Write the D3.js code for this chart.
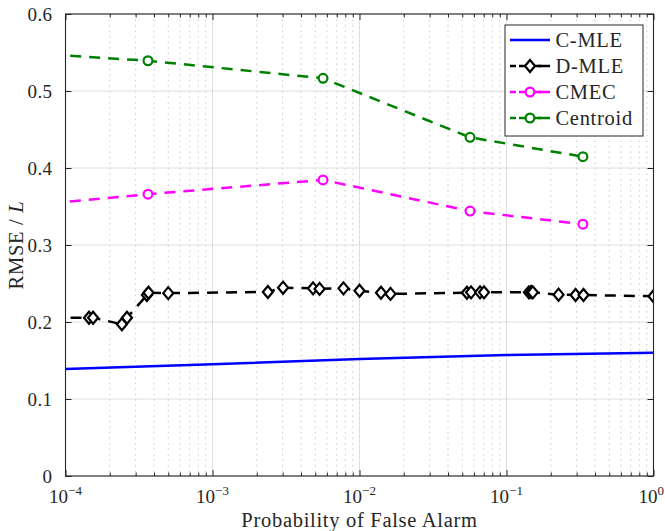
<!DOCTYPE html>
<html>
<head>
<meta charset="utf-8">
<script src="https://cdn.jsdelivr.net/npm/d3@7"></script>
<style>
  body { margin: 0; background: #fff; }
  text { font-family: "Liberation Serif", "DejaVu Serif", serif; fill: #262626; }
</style>
</head>
<body>
<script>
// C-MLE (solid blue)
const cmleX = [1e-4, 1e-3, 1e-2, 1e-1, 1];
const cmleY = [0.139, 0.145, 0.152, 0.157, 0.160];

// D-MLE (dashed black, diamonds); first point sits left of the axis
const dmleX = [1e-5, 1.445e-4, 1.54e-4, 2.42e-4, 2.62e-4, 3.58e-4, 3.67e-4, 5.0e-4,
  2.38e-3, 3.02e-3, 4.83e-3, 5.35e-3, 7.78e-3, 1.0e-2, 0.0140, 0.01625,
  0.0538, 0.0574, 0.0661, 0.0703, 0.142, 0.147, 0.151, 0.226, 0.295, 0.334, 1.0];
const dmleY = [0.2056, 0.2056, 0.2056, 0.197, 0.2056, 0.235, 0.238, 0.2375,
  0.239, 0.2446, 0.2437, 0.243, 0.2437, 0.2405, 0.238, 0.2365,
  0.238, 0.2385, 0.2385, 0.2385, 0.2385, 0.239, 0.2385, 0.2355, 0.235, 0.235, 0.2335];

// CMEC (dashed magenta, circles)
const cmecX = [1e-5, 3.64e-4, 5.65e-3, 0.0565, 0.331];
const cmecY = [0.338, 0.366, 0.3845, 0.344, 0.327];

// Centroid (dashed green, circles)
const centX = [1e-5, 3.64e-4, 5.65e-3, 0.0565, 0.331];
const centY = [0.558, 0.5393, 0.5165, 0.4398, 0.4147];

const yTicks = [0, 0.1, 0.2, 0.3, 0.4, 0.5, 0.6];
const xTicks = [1e-4, 1e-3, 1e-2, 1e-1, 1];
const xExp = [-4, -3, -2, -1, 0];

const W = 665, H = 531;
const m = { left: 65.5, top: 14, right: 11.5, bottom: 55 };
const iw = W - m.left - m.right, ih = H - m.top - m.bottom;

const x = d3.scaleLog().domain([1e-4, 1]).range([0, iw]);
const y = d3.scaleLinear().domain([0, 0.6]).range([ih, 0]);

const svg = d3.select('body').append('svg').attr('width', W).attr('height', H);
svg.append('defs').append('clipPath').attr('id', 'clip')
  .append('rect').attr('width', iw).attr('height', ih);

const g = svg.append('g').attr('transform', `translate(${m.left},${m.top})`);

// minor x positions
const minor = [];
for (let e = -4; e < 0; e++) for (let k = 2; k <= 9; k++) minor.push(k * Math.pow(10, e));

// grid
g.append('g').selectAll('line').data(minor).enter().append('line')
  .attr('x1', d => x(d)).attr('x2', d => x(d)).attr('y1', 0).attr('y2', ih)
  .attr('stroke', '#c4c4c4').attr('stroke-width', 0.9).attr('stroke-dasharray', '1.5,4');
g.append('g').selectAll('line').data(xTicks).enter().append('line')
  .attr('x1', d => x(d)).attr('x2', d => x(d)).attr('y1', 0).attr('y2', ih)
  .attr('stroke', '#dedede').attr('stroke-width', 1);
g.append('g').selectAll('line').data(yTicks).enter().append('line')
  .attr('x1', 0).attr('x2', iw).attr('y1', d => y(d)).attr('y2', d => y(d))
  .attr('stroke', '#dedede').attr('stroke-width', 1);

// series
const plot = g.append('g').attr('clip-path', 'url(#clip)');
const line = d3.line().x(d => x(d[0])).y(d => y(d[1]));
const zip = (a, b) => a.map((v, i) => [v, b[i]]);

plot.append('path').datum(zip(cmleX, cmleY)).attr('d', line)
  .attr('fill', 'none').attr('stroke', '#0000ff').attr('stroke-width', 2.5);

plot.append('path').datum(zip(dmleX, dmleY)).attr('d', line)
  .attr('fill', 'none').attr('stroke', '#000').attr('stroke-width', 2.5)
  .attr('stroke-dasharray', '11,8');
plot.append('path').datum(zip(cmecX, cmecY)).attr('d', line)
  .attr('fill', 'none').attr('stroke', '#ff00ff').attr('stroke-width', 2.5)
  .attr('stroke-dasharray', '11,8');
plot.append('path').datum(zip(centX, centY)).attr('d', line)
  .attr('fill', 'none').attr('stroke', '#008000').attr('stroke-width', 2.5)
  .attr('stroke-dasharray', '11,8');

const diamond = 'M0,-6L5,0L0,6L-5,0Z';
plot.selectAll('.dm').data(zip(dmleX, dmleY).filter(d => d[0] >= 1e-4)).enter().append('path')
  .attr('class', 'dm').attr('d', diamond)
  .attr('transform', d => `translate(${x(d[0])},${y(d[1])})`)
  .attr('fill', '#fff').attr('stroke', '#000').attr('stroke-width', 2.2);
plot.selectAll('.cm').data(zip(cmecX, cmecY).filter(d => d[0] >= 1e-4)).enter().append('circle')
  .attr('class', 'cm').attr('cx', d => x(d[0])).attr('cy', d => y(d[1])).attr('r', 4.4)
  .attr('fill', '#fff').attr('stroke', '#ff00ff').attr('stroke-width', 2.2);
plot.selectAll('.ce').data(zip(centX, centY).filter(d => d[0] >= 1e-4)).enter().append('circle')
  .attr('class', 'ce').attr('cx', d => x(d[0])).attr('cy', d => y(d[1])).attr('r', 4.4)
  .attr('fill', '#fff').attr('stroke', '#008000').attr('stroke-width', 2.2);

// axes (ticks point inward, box on)
const axCol = '#262626';
function styleAxis(sel) {
  sel.select('.domain').remove();
  sel.selectAll('line').attr('stroke', axCol);
}
g.append('g').attr('transform', `translate(0,${ih})`)
  .call(d3.axisBottom(x).tickValues(xTicks.concat(minor)).tickSizeInner(-6).tickSizeOuter(0).tickFormat(''))
  .call(styleAxis)
  .call(s => s.selectAll('.tick line').attr('y2', d => xTicks.includes(d) ? -6 : -3.5));
g.append('g')
  .call(d3.axisTop(x).tickValues(xTicks.concat(minor)).tickSizeInner(-6).tickSizeOuter(0).tickFormat(''))
  .call(styleAxis)
  .call(s => s.selectAll('.tick line').attr('y2', d => xTicks.includes(d) ? 6 : 3.5));
const yl = g.append('g')
  .call(d3.axisLeft(y).tickValues(yTicks).tickSizeInner(-6).tickSizeOuter(0).tickPadding(13).tickFormat(d3.format('')))
  .call(styleAxis);
yl.selectAll('text').attr('font-size', 19).attr('letter-spacing', 0.4).attr('fill', axCol);
g.append('g').attr('transform', `translate(${iw},0)`)
  .call(d3.axisRight(y).tickValues(yTicks).tickSizeInner(-6).tickSizeOuter(0).tickFormat(''))
  .call(styleAxis);

g.append('rect').attr('width', iw).attr('height', ih)
  .attr('fill', 'none').attr('stroke', axCol).attr('stroke-width', 1.1);

// x tick labels 10^k (last one kept inside the window)
const last = xTicks.length - 1;
const xl = g.append('g').selectAll('text').data(xTicks).enter().append('text')
  .attr('x', (d, i) => (i === last ? W - m.left - 1 : x(d)))
  .attr('y', ih + 27)
  .attr('text-anchor', (d, i) => (i === last ? 'end' : 'middle'))
  .attr('font-size', 19);
xl.append('tspan').text('10');
xl.append('tspan').attr('dy', -8).attr('font-size', 13)
  .text((d, i) => (xExp[i] < 0 ? '\u2212' + (-xExp[i]) : xExp[i]));

// axis titles
g.append('text').attr('x', iw / 2).attr('y', ih + 51).attr('text-anchor', 'middle')
  .attr('font-size', 20.5).attr('letter-spacing', 0.7).text('Probability of False Alarm');
const yt = g.append('text').attr('transform', `translate(-43,${ih / 2}) rotate(-90)`)
  .attr('text-anchor', 'middle').attr('font-size', 20.5).attr('letter-spacing', 0.7);
yt.append('tspan').text('RMSE / ');
yt.append('tspan').attr('font-style', 'italic').text('L');

// legend
const names = ['C-MLE', 'D-MLE', 'CMEC', 'Centroid'];
const cols = ['#0000ff', '#000', '#ff00ff', '#008000'];
const lg = svg.append('g').attr('transform', 'translate(505,25)');
lg.append('rect').attr('width', 138).attr('height', 111)
  .attr('fill', '#fff').attr('stroke', axCol).attr('stroke-width', 1);
names.forEach((n, i) => {
  const yy = 15 + i * 26;
  const row = lg.append('g').attr('transform', `translate(0,${yy})`);
  if (i === 0) {
    row.append('line').attr('x1', 5).attr('x2', 45).attr('stroke', cols[i]).attr('stroke-width', 2.5);
  } else {
    row.append('line').attr('x1', 5).attr('x2', 11).attr('stroke', cols[i]).attr('stroke-width', 2.5);
    row.append('line').attr('x1', 33).attr('x2', 45).attr('stroke', cols[i]).attr('stroke-width', 2.5);
    if (i === 1) {
      row.append('path').attr('d', diamond).attr('transform', 'translate(25,0)')
        .attr('fill', '#fff').attr('stroke', cols[i]).attr('stroke-width', 2.2);
      row.append('line').attr('x1', 14).attr('x2', 20).attr('stroke', cols[i]).attr('stroke-width', 2.5);
    } else {
      row.append('circle').attr('cx', 25).attr('r', 4.4)
        .attr('fill', '#fff').attr('stroke', cols[i]).attr('stroke-width', 2.2);
      row.append('line').attr('x1', 14).attr('x2', 20.5).attr('stroke', cols[i]).attr('stroke-width', 2.5);
    }
    row.append('line').attr('x1', 29.5).attr('x2', 36).attr('stroke', cols[i]).attr('stroke-width', 2.5);
  }
  row.append('text').attr('x', 50.5).attr('y', 7).attr('font-size', 20.5)
    .attr('letter-spacing', 0.7).text(n);
});
</script>
</body>
</html>
